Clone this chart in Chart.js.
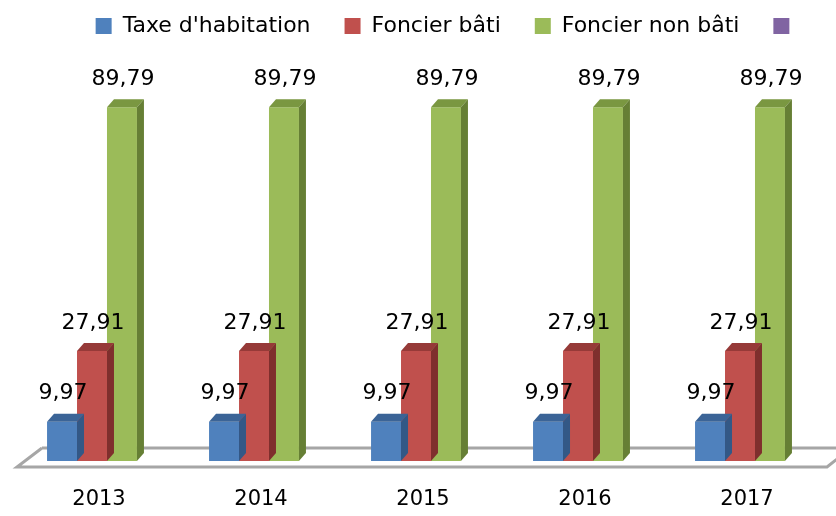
<!DOCTYPE html>
<html>
<head>
<meta charset="utf-8">
<script src="https://cdn.jsdelivr.net/npm/chart.js@4"></script>
<style>
  html, body { margin: 0; padding: 0; background: #fff; }
  #wrap { width: 836px; height: 516px; }
</style>
</head>
<body>
<div id="wrap"><canvas id="chart"></canvas></div>
<script>
const years = ['2013', '2014', '2015', '2016', '2017']
const taxeHabitation = [9.97, 9.97, 9.97, 9.97, 9.97]
const foncierBati = [27.91, 27.91, 27.91, 27.91, 27.91]
const foncierNonBati = [89.79, 89.79, 89.79, 89.79, 89.79]
const seriesNames = ["Taxe d'habitation", 'Foncier bâti', 'Foncier non bâti', '']
const seriesColors = ['#4f81bd', '#c0504d', '#9bbb59', '#8064a2']
const topColors = ['#3b6497', '#963a38', '#7a9741', '#634d80']
const sideColors = ['#335886', '#7f2f2d', '#667f35', '#54416d']

const FONT = 'DejaVu Sans'
const DX = 7, DY = 8

// draws the 3D top and side of every bar right after its dataset
const bar3d = {
  id: 'bar3d',
  afterDatasetDraw (chart, args) {
    const ctx = chart.ctx
    const i = args.index
    args.meta.data.forEach(bar => {
      const l = bar.x - bar.width / 2
      const r = bar.x + bar.width / 2
      const t = bar.y
      const b = bar.base
      ctx.save()
      ctx.fillStyle = topColors[i]
      ctx.beginPath()
      ctx.moveTo(l, t); ctx.lineTo(l + DX, t - DY); ctx.lineTo(r + DX, t - DY); ctx.lineTo(r, t)
      ctx.closePath(); ctx.fill()
      ctx.fillStyle = sideColors[i]
      ctx.beginPath()
      ctx.moveTo(r, t); ctx.lineTo(r + DX, t - DY); ctx.lineTo(r + DX, b - DY); ctx.lineTo(r, b)
      ctx.closePath(); ctx.fill()
      ctx.restore()
    })
  }
}

// the floor of the 3D plot
const floor = {
  id: 'floor',
  beforeDatasetsDraw (chart) {
    const ctx = chart.ctx
    const a = chart.chartArea
    const y0 = chart.scales.y.getPixelForValue(0)
    ctx.save()
    ctx.strokeStyle = '#a6a6a6'
    ctx.lineWidth = 3
    ctx.beginPath()
    ctx.moveTo(a.left + 31, y0 - 13)
    ctx.lineTo(a.right + 30, y0 - 13)
    ctx.moveTo(a.left + 31, y0 - 13)
    ctx.lineTo(a.left + 6, y0 + 6)
    ctx.lineTo(a.right + 6, y0 + 6)
    ctx.lineTo(a.right + 30, y0 - 13)
    ctx.stroke()
    ctx.restore()
  }
}

// value labels, french decimal comma
const valueLabels = {
  id: 'valueLabels',
  afterDatasetsDraw (chart) {
    const ctx = chart.ctx
    ctx.save()
    ctx.font = '22px "' + FONT + '"'
    ctx.fillStyle = '#000'
    ctx.textAlign = 'center'
    ctx.textBaseline = 'bottom'
    chart.data.datasets.forEach((ds, i) => {
      const meta = chart.getDatasetMeta(i)
      meta.data.forEach((bar, j) => {
        const v = ds.data[j]
        if (v == null) return
        ctx.fillText(v.toFixed(2).replace('.', ','), bar.x + 1, bar.y - DY - 9)
      })
    })
    ctx.restore()
  }
}

// fixed legend height, and nudge the legend row to where the original sits
const legendBox = {
  id: 'legendBox',
  beforeInit (chart) {
    const lg = chart.legend
    const fit = lg.fit
    lg.fit = function () {
      fit.apply(this, arguments)
      this.height = 67
    }
    const draw = lg.draw
    lg.draw = function () {
      this.ctx.save()
      this.ctx.translate(32, -19)
      draw.apply(this, arguments)
      this.ctx.restore()
    }
  }
}

new Chart(document.getElementById('chart'), {
  type: 'bar',
  data: {
    labels: years,
    datasets: [
      { label: seriesNames[0], data: taxeHabitation, backgroundColor: seriesColors[0] },
      { label: seriesNames[1], data: foncierBati, backgroundColor: seriesColors[1] },
      { label: seriesNames[2], data: foncierNonBati, backgroundColor: seriesColors[2] },
      { label: seriesNames[3], data: [], backgroundColor: seriesColors[3] }
    ]
  },
  options: {
    responsive: true,
    maintainAspectRatio: false,
    animation: false,
    layout: { padding: { top: 0, left: 11, right: 15, bottom: 0 } },
    datasets: { bar: { barPercentage: 1, categoryPercentage: 0.555, skipNull: true } },
    plugins: {
      legend: {
        position: 'top',
        labels: {
          boxWidth: 16,
          boxHeight: 16,
          padding: 34,
          color: '#000',
          font: { family: FONT, size: 22 }
        }
      },
      tooltip: { enabled: false }
    },
    scales: {
      x: {
        grid: { display: false, drawTicks: false },
        border: { display: false },
        ticks: { color: '#000', padding: 26, labelOffset: 7, font: { family: FONT, size: 21 } },
        afterFit (scale) { scale.height = 55 }
      },
      y: { display: false, min: 0, max: 100 }
    }
  },
  plugins: [floor, bar3d, valueLabels, legendBox]
})
</script>
</body>
</html>
